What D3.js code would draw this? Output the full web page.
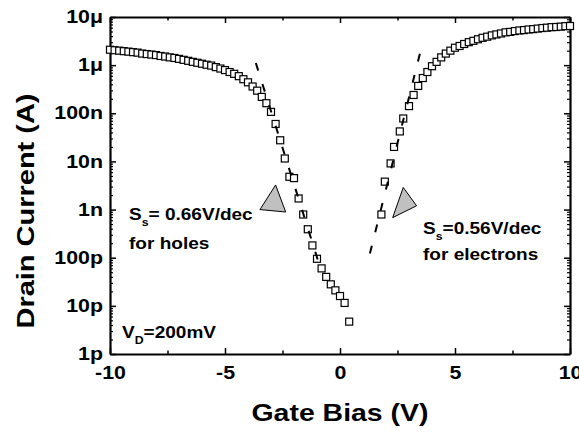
<!DOCTYPE html>
<html><head><meta charset="utf-8">
<script src="https://cdn.jsdelivr.net/npm/d3@7"></script>
<style>
body{margin:0;background:#fff}
svg{display:block}
text{font-family:"Liberation Sans",Arial,sans-serif;font-weight:bold;fill:#000}
</style></head>
<body><svg id="c" width="579" height="433"></svg>
<script>
// ---- data ----
const holesV = [-10,-9.8,-9.6,-9.4,-9.2,-9.0,-8.8,-8.6,-8.4,-8.2,-8.0,-7.8,-7.6,-7.4,-7.2,-7.0,-6.8,-6.6,-6.4,-6.2,-6.0,-5.8,-5.6,-5.4,-5.2,-5.0,-4.8,-4.6,-4.4,-4.2,-4.0,-3.8,-3.6,-3.4,-3.2,-3.0,-2.8,-2.6,-2.4,-2.2,-2.0,-1.8,-1.6,-1.4,-1.2,-1.0,-0.8,-0.6,-0.4,-0.2,0.0,0.2,0.4];
const holesI = [2.09e-6,2.04e-6,2.0e-6,1.95e-6,1.91e-6,1.86e-6,1.82e-6,1.74e-6,1.70e-6,1.66e-6,1.62e-6,1.55e-6,1.51e-6,1.45e-6,1.41e-6,1.35e-6,1.29e-6,1.23e-6,1.17e-6,1.12e-6,1.07e-6,1.02e-6,9.8e-7,9.1e-7,8.5e-7,7.9e-7,7.2e-7,6.6e-7,5.9e-7,5.1e-7,4.4e-7,3.6e-7,2.95e-7,2.19e-7,1.62e-7,1.07e-7,6.0e-8,2.75e-8,1.15e-8,4.8e-9,4.5e-9,1.7e-9,7.9e-10,3.9e-10,1.8e-10,9.5e-11,6.0e-11,4.0e-11,2.8e-11,2.1e-11,1.6e-11,1.15e-11,4.7e-12];
const elecV = [1.8,1.95,2.2,2.35,2.6,2.75,3.0,3.2,3.4,3.6,3.8,4.0,4.2,4.4,4.6,4.8,5.0,5.2,5.4,5.6,5.8,6.0,6.2,6.4,6.6,6.8,7.0,7.2,7.4,7.6,7.8,8.0,8.2,8.4,8.6,8.8,9.0,9.2,9.4,9.6,9.8,10.0];
const elecI = [7.9e-10,3.8e-9,9.1e-9,2.0e-8,4.2e-8,7.8e-8,1.41e-7,2.4e-7,3.7e-7,5.4e-7,7.2e-7,9.5e-7,1.17e-6,1.45e-6,1.74e-6,2.0e-6,2.3e-6,2.5e-6,2.75e-6,3.0e-6,3.2e-6,3.45e-6,3.7e-6,3.9e-6,4.15e-6,4.35e-6,4.55e-6,4.8e-6,4.9e-6,5.1e-6,5.25e-6,5.35e-6,5.5e-6,5.6e-6,5.75e-6,5.9e-6,6.0e-6,6.15e-6,6.2e-6,6.3e-6,6.45e-6,6.5e-6];
const fitHolesV = [-3.66,-0.80];
const fitHolesI = [1.11e-6,5.07e-11];
const fitElecV = [1.30,3.55];
const fitElecI = [1.22e-10,2.42e-6];
const triHolesV = [-2.80,-3.48,-2.36];
const triHolesI = [3.24e-9,1.0e-9,8.9e-10];
const triElecV = [2.75,2.29,3.33];
const triElecI = [2.88e-9,6.8e-10,1.2e-9];
const xTickValues = [-10,-5,0,5,10];
const xTickLabels = ["-10","-5","0","5","10"];
const xMinorValues = [-7.5,-2.5,2.5,7.5];
const yTickValues = [1e-12,1e-11,1e-10,1e-9,1e-8,1e-7,1e-6,1e-5];
const yTickLabels = ["1p","10p","100p","1n","10n","100n","1μ","10μ"];

// ---- layout ----
const W=579,H=433, L=110,R=570,T=17,B=354;
const svg=d3.select("#c");
const x=d3.scaleLinear().domain([-10,10]).range([L,R]);
const y=d3.scaleLog().domain([1e-12,1e-5]).range([B,T]);
const STRETCH=1.22;
function stretch(sel,f){sel.each(function(){const n=this;const l=n.getComputedTextLength();if(l>0){n.setAttribute("textLength",(l*f).toFixed(2));n.setAttribute("lengthAdjust","spacingAndGlyphs");}});}

const yMinor = y.ticks().filter(v=>!yTickValues.some(t=>Math.abs(t-v)/t<1e-6));

function styleAxis(g){g.select(".domain").attr("stroke","#000").attr("stroke-width",2.2);g.selectAll(".tick line").attr("stroke","#000").attr("stroke-width",1.5);}

// bottom
const gB=svg.append("g").attr("transform",`translate(0,${B})`)
 .call(d3.axisBottom(x).tickValues(xTickValues).tickFormat((d,i)=>xTickLabels[i]).tickSizeInner(-6).tickSizeOuter(0).tickPadding(12.5));
styleAxis(gB);
gB.selectAll("text").attr("font-size",17.5).attr("font-family",null);
svg.append("g").attr("transform",`translate(0,${B})`).call(d3.axisBottom(x).tickValues(xMinorValues).tickFormat("").tickSizeInner(-3.5).tickSizeOuter(0)).call(g=>{g.select(".domain").remove();g.selectAll("line").attr("stroke","#000").attr("stroke-width",1.5);});
// top
const gT=svg.append("g").attr("transform",`translate(0,${T})`)
 .call(d3.axisTop(x).tickValues(xTickValues).tickFormat("").tickSizeInner(-6).tickSizeOuter(0));
styleAxis(gT);
svg.append("g").attr("transform",`translate(0,${T})`).call(d3.axisTop(x).tickValues(xMinorValues).tickFormat("").tickSizeInner(-3.5).tickSizeOuter(0)).call(g=>{g.select(".domain").remove();g.selectAll("line").attr("stroke","#000").attr("stroke-width",1.5);});
// left
const gL=svg.append("g").attr("transform",`translate(${L},0)`)
 .call(d3.axisLeft(y).tickValues(yTickValues).tickFormat((d,i)=>yTickLabels[i]).tickSizeInner(-6).tickSizeOuter(0).tickPadding(7));
styleAxis(gL);
gL.selectAll("text").attr("font-size",17.5).attr("font-family",null);
svg.append("g").attr("transform",`translate(${L},0)`).call(d3.axisLeft(y).tickValues(yMinor).tickFormat("").tickSizeInner(-3).tickSizeOuter(0)).call(g=>{g.select(".domain").remove();g.selectAll("line").attr("stroke","#000").attr("stroke-width",1.2);});
// right
const gR=svg.append("g").attr("transform",`translate(${R},0)`)
 .call(d3.axisRight(y).tickValues(yTickValues).tickFormat("").tickSizeInner(-6).tickSizeOuter(0));
styleAxis(gR);
svg.append("g").attr("transform",`translate(${R},0)`).call(d3.axisRight(y).tickValues(yMinor).tickFormat("").tickSizeInner(-3).tickSizeOuter(0)).call(g=>{g.select(".domain").remove();g.selectAll("line").attr("stroke","#000").attr("stroke-width",1.2);});

// data squares
const S=7;
function squares(V,I){
  svg.append("g").selectAll("rect").data(V.map((v,i)=>[v,I[i]])).join("rect")
   .attr("x",d=>x(d[0])-S/2).attr("y",d=>y(d[1])-S/2).attr("width",S).attr("height",S)
   .attr("fill","#fff").attr("stroke","#000").attr("stroke-width",1.2);
}
squares(holesV,holesI);
squares(elecV,elecI);

// fit lines
const line=d3.line().x(d=>x(d[0])).y(d=>y(d[1]));
function fit(V,I){svg.append("path").attr("d",line(V.map((v,i)=>[v,I[i]]))).attr("fill","none").attr("stroke","#000").attr("stroke-width",2).attr("stroke-dasharray","8,14");}
fit(fitHolesV,fitHolesI);
fit(fitElecV,fitElecI);

// triangles
function tri(V,I){svg.append("path").attr("d",line(V.map((v,i)=>[v,I[i]]))+"Z").attr("fill","#c0c0c0").attr("stroke","#000").attr("stroke-width",1);}
tri(triHolesV,triHolesI);
tri(triElecV,triElecI);

// annotations (slightly widened glyphs)
const AW=1.12;
function note(xp,yp){return svg.append("g").attr("transform",`translate(${xp},${yp}) scale(${AW},1)`).append("text").attr("x",0).attr("y",0).attr("font-size",17);}
function sub(xp,yp,main,s,rest){
  const t=note(xp,yp);
  t.append("tspan").text(main);
  t.append("tspan").attr("font-size",11).attr("dy",6).text(s);
  t.append("tspan").attr("dy",-6).text(rest);
  return t;
}
sub(129,220,"S","s","= 0.66V/dec");
note(129,249).text("for holes");
sub(423,234,"S","s","=0.56V/dec");
note(423,260).text("for electrons");
sub(122,338,"V","D","=200mV");

// axis titles
svg.append("text").attr("x",340).attr("y",421).attr("text-anchor","middle").attr("font-size",24).attr("textLength",177).attr("lengthAdjust","spacingAndGlyphs").text("Gate Bias (V)");
svg.append("text").attr("transform","translate(34,211) rotate(-90)").attr("text-anchor","middle").attr("font-size",24).attr("textLength",235).attr("lengthAdjust","spacingAndGlyphs").text("Drain Current (A)");

stretch(gB.selectAll("text"),STRETCH);
stretch(gL.selectAll("text"),STRETCH);
</script></body></html>
